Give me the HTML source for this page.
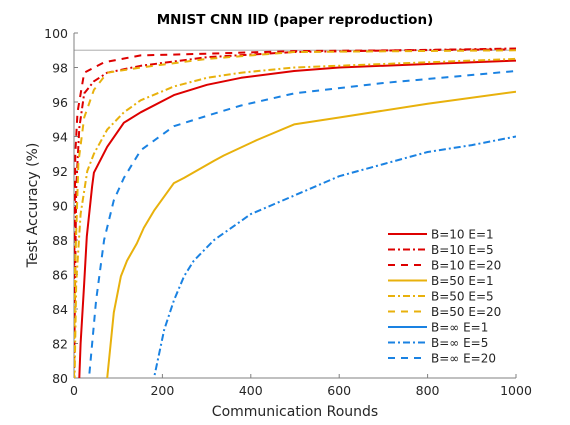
<!DOCTYPE html>
<html><head><meta charset="utf-8"><style>
html,body{margin:0;padding:0;background:#fff;overflow:hidden;width:570px;height:425px;}
svg{position:absolute;left:0;top:0;display:block;font-family:"DejaVu Sans","Liberation Sans",sans-serif;}
</style></head><body>
<svg id="chart" width="570" height="425" xmlns="http://www.w3.org/2000/svg">
<defs><clipPath id="clip"><rect x="74" y="33" width="442" height="345"/></clipPath></defs>
<rect width="570" height="425" fill="#fff"/>
<text x="295" y="24" text-anchor="middle" font-weight="bold" font-size="13.5">MNIST CNN IID (paper reproduction)</text>
<g id="axes"></g>
<g id="series" clip-path="url(#clip)"></g>
<g id="legend"></g>
<text x="295" y="416" text-anchor="middle" font-size="14" fill="#262626">Communication Rounds</text>
<text transform="translate(37,205) rotate(-90)" text-anchor="middle" font-size="14" fill="#262626">Test Accuracy (%)</text>
</svg>
<script>
const xTicks = [0, 200, 400, 600, 800, 1000];
const yTicks = [80, 82, 84, 86, 88, 90, 92, 94, 96, 98, 100];
const targetLine = 99;
const seriesNames = ["B=10 E=1","B=10 E=5","B=10 E=20","B=50 E=1","B=50 E=5","B=50 E=20","B=\u221E E=1","B=\u221E E=5","B=\u221E E=20"];
const r_b10e1 = [0, 12, 15, 23, 29, 41, 45, 75, 113, 151, 226, 301, 378, 498, 600, 800, 1000];
const v_b10e1 = [70, 80, 82, 85.5, 88.2, 91.1, 91.9, 93.4, 94.8, 95.4, 96.4, 97.0, 97.4, 97.8, 98.0, 98.2, 98.4];
const r_b10e5 = [0, 5, 12, 23, 45, 75, 151, 301, 498, 1000];
const v_b10e5 = [80, 91, 94.5, 96.5, 97.2, 97.7, 98.1, 98.6, 98.9, 99.1];
const r_b10e20 = [0, 3, 8, 23, 68, 151, 301, 498, 1000];
const v_b10e20 = [85, 93, 95.4, 97.7, 98.3, 98.7, 98.8, 98.95, 99.05];
const r_b50e1 = [60, 75, 90, 106, 120, 142, 158, 181, 226, 249, 317, 339, 414, 498, 600, 800, 1000];
const v_b50e1 = [75, 80, 83.8, 85.9, 86.8, 87.8, 88.7, 89.7, 91.3, 91.6, 92.6, 92.9, 93.8, 94.7, 95.1, 95.9, 96.6];
const r_b50e5 = [0, 5, 15, 30, 45, 75, 113, 151, 226, 301, 378, 498, 700, 1000];
const v_b50e5 = [78, 85.5, 89.5, 92, 93.0, 94.4, 95.4, 96.1, 96.9, 97.4, 97.7, 98.0, 98.2, 98.5];
const r_b50e20 = [0, 2, 10, 23, 45, 75, 151, 301, 498, 1000];
const v_b50e20 = [80, 86, 92.5, 95.1, 96.7, 97.7, 98.0, 98.5, 98.9, 99.0];
const r_binfe1 = [0, 500, 1000];
const v_binfe1 = [60, 70, 75];
const r_binfe5 = [170, 181, 204, 226, 249, 271, 317, 400, 500, 600, 700, 800, 900, 1000];
const v_binfe5 = [77, 80, 82.8, 84.5, 85.9, 86.8, 88.0, 89.5, 90.6, 91.7, 92.4, 93.1, 93.5, 94.0];
const r_binfe20 = [30, 34, 50, 68, 90, 113, 151, 226, 301, 378, 498, 700, 1000];
const v_binfe20 = [78, 80, 84.5, 88, 90.3, 91.6, 93.2, 94.6, 95.2, 95.8, 96.5, 97.1, 97.8];

const X0=74, X1=516, Y0=378, Y1=33;
const xs = r => X0 + (r/1000)*(X1-X0);
const ys = v => Y0 - ((v-80)/20)*(Y0-Y1);
const NS="http://www.w3.org/2000/svg";
function mk(tag, attrs, parent){const e=document.createElementNS(NS,tag);for(const k in attrs)e.setAttribute(k,attrs[k]);parent.appendChild(e);return e;}

const axes=document.getElementById('axes');
const tl=mk('line',{x1:X0,x2:X1,y1:ys(targetLine),y2:ys(targetLine),stroke:'#bdbdbd','stroke-width':1.2},axes);


const ya=mk('line',{x1:X0,x2:X0,y1:Y1,y2:Y0,stroke:'#808080','stroke-width':1},axes);


const xa=mk('line',{x1:X0,x2:X1,y1:Y0,y2:Y0,stroke:'#808080','stroke-width':1},axes);


xTicks.forEach(t=>{
  mk('line',{x1:xs(t),x2:xs(t),y1:Y0,y2:Y0-4,stroke:'#808080'},axes);
  const tx=mk('text',{x:xs(t),y:Y0+17,'text-anchor':'middle','font-size':12.5,fill:'#262626'},axes);
  tx.textContent=t;
  
  
});
yTicks.forEach(t=>{
  mk('line',{x1:X0,x2:X0+4,y1:ys(t),y2:ys(t),stroke:'#808080'},axes);
  const tx=mk('text',{x:X0-6,y:ys(t)+5,'text-anchor':'end','font-size':12.5,fill:'#262626'},axes);
  tx.textContent=t;
  
  
});

const colors=['#dd0000','#dd0000','#dd0000','#e8b10c','#e8b10c','#e8b10c','#1a82e2','#1a82e2','#1a82e2'];
const dashes=['none','7,3,2,3','7,6','none','7,3,2,3','7,6','none','7,3,2,3','7,6'];
const rs=[r_b10e1,r_b10e5,r_b10e20,r_b50e1,r_b50e5,r_b50e20,r_binfe1,r_binfe5,r_binfe20];
const vs=[v_b10e1,v_b10e5,v_b10e20,v_b50e1,v_b50e5,v_b50e20,v_binfe1,v_binfe5,v_binfe20];
const sg=document.getElementById('series');
rs.forEach((r,i)=>{
  const d=r.map((x,j)=>(j?'L':'M')+xs(x).toFixed(1)+','+ys(vs[i][j]).toFixed(1)).join(' ');
  const p=mk('path',{d:d,fill:'none',stroke:colors[i],'stroke-width':2,'stroke-dasharray':dashes[i],'stroke-linejoin':'round'},sg);
  
  
});
const lg=document.getElementById('legend');
seriesNames.forEach((n,i)=>{
  const y=234+i*15.5;
  const ln=mk('line',{x1:388,x2:427,y1:y,y2:y,stroke:colors[i],'stroke-width':2,'stroke-dasharray':dashes[i]},lg);
  
  
  const t=mk('text',{x:431,y:y+4.5,'font-size':12,fill:'#262626'},lg);
  t.textContent=n;
  
  
});
</script>
</body></html>
